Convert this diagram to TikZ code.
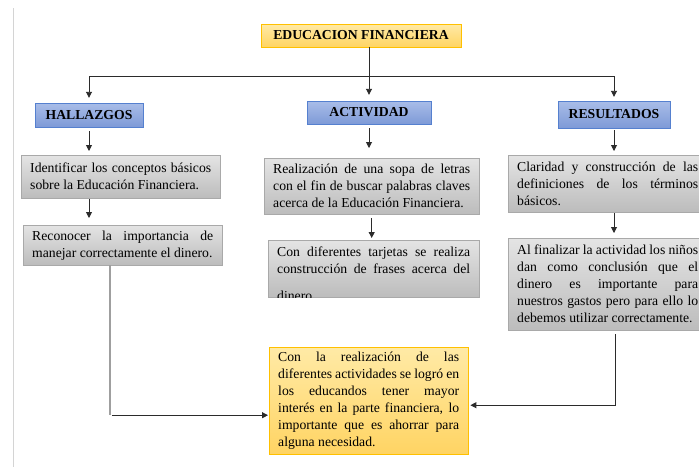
\documentclass[tikz,border=0pt]{standalone}
\usepackage{fontspec}
\setmainfont{Liberation Serif}
\usetikzlibrary{arrows.meta,calc}

\definecolor{titletop}{HTML}{FFEAA6}
\definecolor{titlebot}{HTML}{FFD463}
\definecolor{titlebd}{HTML}{FFC000}
\definecolor{bluetop}{HTML}{A9BDE8}
\definecolor{bluebot}{HTML}{7E9AD7}
\definecolor{bluebd}{HTML}{5580CF}
\definecolor{graytop}{HTML}{E4E4E4}
\definecolor{graybot}{HTML}{BCBCBC}
\definecolor{graybd}{HTML}{A9A9A9}
\definecolor{linedark}{HTML}{2B2B2B}
\definecolor{pageline}{HTML}{D4D4D4}

\begin{document}
\begin{tikzpicture}[x=1pt, y=-1pt,
  every node/.style={font=\fontsize{13.7}{17}\selectfont, text=black},
  headbox/.style={draw=bluebd, top color=bluetop, bottom color=bluebot, font=\fontsize{13.7}{17}\selectfont\bfseries, inner sep=0pt},
  titlebox/.style={headbox, draw=titlebd, top color=titletop, bottom color=titlebot},
  boxtext/.style={align=justify, inner sep=0pt},
  textbox/.style={boxtext, draw=graybd, top color=graytop, bottom color=graybot, inner xsep=9pt, anchor=north west},
  endbox/.style={textbox, draw=titlebd, top color=titletop, bottom color=titlebot},
  arr/.style={draw=linedark, line width=0.9pt, -{Triangle[length=6pt,width=6pt]}, shorten <=4pt, shorten >=4pt}]
  \useasboundingbox[fill=white] (0,0) rectangle (699,467);
  \draw[pageline, line width=1pt] (13,8) -- (13,467);

  % cabeceras
  \node[titlebox, minimum width=200pt, minimum height=23pt] (title) at (361,35.5) {EDUCACION FINANCIERA};
  \node[headbox, minimum width=108pt, minimum height=24pt] (hallazgos) at (89,115) {HALLAZGOS};
  \node[headbox, minimum width=124pt, minimum height=23pt] (actividad) at (369,112.5) {ACTIVIDAD};
  \node[headbox, minimum width=112pt, minimum height=27pt] (resultados) at (614,114.5) {RESULTADOS};

  % columna izquierda
  \node[textbox, text width=181pt, minimum height=43pt] (identificar) at (21,155)
    {Identificar los conceptos básicos\linebreak sobre la Educación Financiera.};
  \node[textbox, text width=181pt, minimum height=40pt] (reconocer) at (23,225)
    {Reconocer la importancia de\linebreak manejar correctamente el dinero.};

  % columna central
  \node[textbox, text width=197pt, minimum height=56pt] (realizacion) at (264,158)
    {Realización de una sopa de letras\linebreak con el fin de buscar palabras claves\linebreak acerca de la Educación Financiera.};
  \node[textbox, text width=193pt, minimum height=57pt] (condiferentes) at (268,240) {};
  \begin{scope}
    \clip (condiferentes.south west) rectangle (condiferentes.north east);
    \node[boxtext, text width=193pt, anchor=north west] (condiferentes-text) at ([xshift=9pt, yshift=-6.5pt]condiferentes.north west)
      {Con diferentes tarjetas se realiza\linebreak construcción de frases acerca del\vadjust{\vskip 10.5pt}\linebreak dinero};
  \end{scope}

  % columna derecha
  \node[textbox, text width=181pt, minimum height=57pt] (claridad) at (508,155)
    {Claridad y construcción de las\linebreak definiciones de los términos\linebreak básicos.};
  \node[textbox, text width=181pt, minimum height=92pt] (alfinalizar) at (508,238)
    {Al finalizar la actividad los niños\linebreak dan como conclusión que el\linebreak dinero es importante para\linebreak nuestros gastos pero para ello lo\linebreak debemos utilizar correctamente.};

  % conclusion
  \node[endbox, text width=181pt, minimum height=107pt] (conclusion) at (269,347)
    {Con la realización de las\linebreak diferentes actividades se logró en\linebreak los educandos tener mayor\linebreak interés en la parte financiera, lo\linebreak importante que es ahorrar para\linebreak alguna necesidad.};

  % conectores
  \path (actividad.north) ++(0,-24) coordinate (bus);
  \draw[arr, shorten <=0pt, shorten >=6pt] (title.south -| actividad.north) -- (actividad.north);
  \draw[arr, shorten <=0pt, shorten >=5pt] (bus) -| (hallazgos.north);
  \draw[arr, shorten <=0pt, shorten >=4pt] (bus) -| (resultados.north);

  \draw[arr] (hallazgos.south) -- (identificar.north -| hallazgos.south);
  \draw[arr, shorten <=1pt, shorten >=7pt] (identificar.south -| hallazgos.south) -- (reconocer.north -| hallazgos.south);
  \draw[arr, shorten >=10pt] (actividad.south) -- (actividad.south |- realizacion.north);
  \draw[arr, shorten >=2pt] (realizacion.south) -- (realizacion.south |- condiferentes.north);
  \draw[arr, shorten <=2pt] (resultados.south) -- (resultados.south |- claridad.north);
  \draw[arr, shorten <=1pt, shorten >=5pt] (claridad.south -| resultados.south) -- (alfinalizar.north -| resultados.south);

  \coordinate (lend) at ([yshift=-14.5pt]conclusion.west);
  \coordinate (lcorner) at ([xshift=-12.5pt]reconocer.south |- lend);
  \draw[gray!75, line width=1.6pt] ([xshift=-12.5pt]reconocer.south) -- (lcorner);
  \draw[arr, shorten <=2pt, shorten >=1pt] (lcorner) -- (lend);

  \coordinate (rend) at ([yshift=-4.5pt]conclusion.east);
  \draw[arr, shorten >=2pt] ([xshift=1.5pt]alfinalizar.south -| resultados.south) |- (rend);
\end{tikzpicture}
\end{document}
